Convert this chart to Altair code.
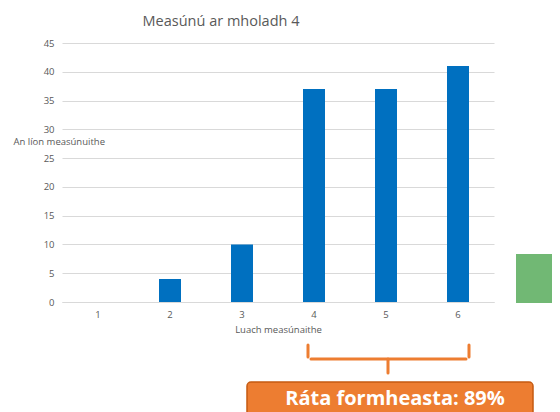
import altair as alt
import pandas as pd

# Data
categories = ["1", "2", "3", "4", "5", "6"]
counts = [0, 4, 10, 37, 37, 41]
pass_categories = ["4", "5", "6"]

chart_title = "Measúnú ar mholadh 4"
y_title = "An líon measúnuithe"
x_title = "Luach measúnaithe"

total = sum(counts)
passed = sum(c for k, c in zip(categories, counts) if k in pass_categories)
rate_text = f"Ráta formheasta: {round(100 * passed / total)}%"

df = pd.DataFrame({"cat": categories, "count": counts})

FONT = "Open Sans"
GREY = "#595959"
ORANGE = "#ED7D31"

bars = alt.Chart(df).mark_bar(size=22, color="#0070C0").encode(
    x=alt.X("cat:O", sort=categories,
            scale=alt.Scale(paddingInner=0, paddingOuter=0),
            axis=alt.Axis(title=x_title, labelAngle=0, ticks=False, domain=True,
                          domainColor="#D9D9D9", labelPadding=7, titlePadding=6,
                          labelFontSize=9.5, titleFontSize=9.5, titleFontWeight="normal",
                          labelColor=GREY, titleColor=GREY, labelFont=FONT, titleFont=FONT)),
    y=alt.Y("count:Q", scale=alt.Scale(domain=[0, 45], nice=False),
            axis=alt.Axis(title=y_title, values=list(range(0, 46, 5)), ticks=False, domain=False,
                          gridColor="#D9D9D9", labelPadding=8, labelFontSize=9.5,
                          labelColor=GREY, titleColor=GREY, labelFont=FONT, titleFont=FONT,
                          titleFontSize=9.5, titleFontWeight="normal", titleAngle=0,
                          titleAlign="left", titleBaseline="alphabetic", titleX=-49, titleY=101)),
)

one = alt.Data(values=[{}])

title_mark = alt.Chart(one).mark_text(
    text=chart_title, font=FONT, fontSize=14.5, color=GREY, align="center", baseline="alphabetic"
).encode(x=alt.value(159), y=alt.value(-17))

# bracket pieces
def rule(x1, y1, x2, y2):
    return alt.Chart(one).mark_rule(color=ORANGE, strokeWidth=3, strokeCap="round").encode(
        x=alt.value(x1), y=alt.value(y1), x2=alt.value(x2), y2=alt.value(y2))

bracket = [
    rule(246, 302, 246, 314),
    rule(407, 302, 407, 314),
    rule(249, 316, 404, 316),
    rule(326, 316, 326, 330),
]

box = alt.Chart(one).mark_rect(
    color=ORANGE, stroke="#C55A11", strokeWidth=1.5, cornerRadius=4
).encode(x=alt.value(185), x2=alt.value(471), y=alt.value(339), y2=alt.value(380))

box_text = alt.Chart(one).mark_text(
    text=rate_text, font=FONT, fontSize=20, fontWeight="bold", color="white",
    align="center", baseline="alphabetic"
).encode(x=alt.value(333), y=alt.value(362))

green = alt.Chart(one).mark_rect(color="#71B874").encode(
    x=alt.value(454), x2=alt.value(500), y=alt.value(211), y2=alt.value(260))

chart = alt.layer(bars, title_mark, *bracket, box, box_text, green).properties(
    width=432, height=259,
    padding={"left": 54, "top": 35, "right": 58, "bottom": 110},
    autosize=alt.AutoSizeParams(type="none"),
).configure_view(stroke=None)

chart.save("out.html", embed_options={"renderer": "svg", "actions": False})
